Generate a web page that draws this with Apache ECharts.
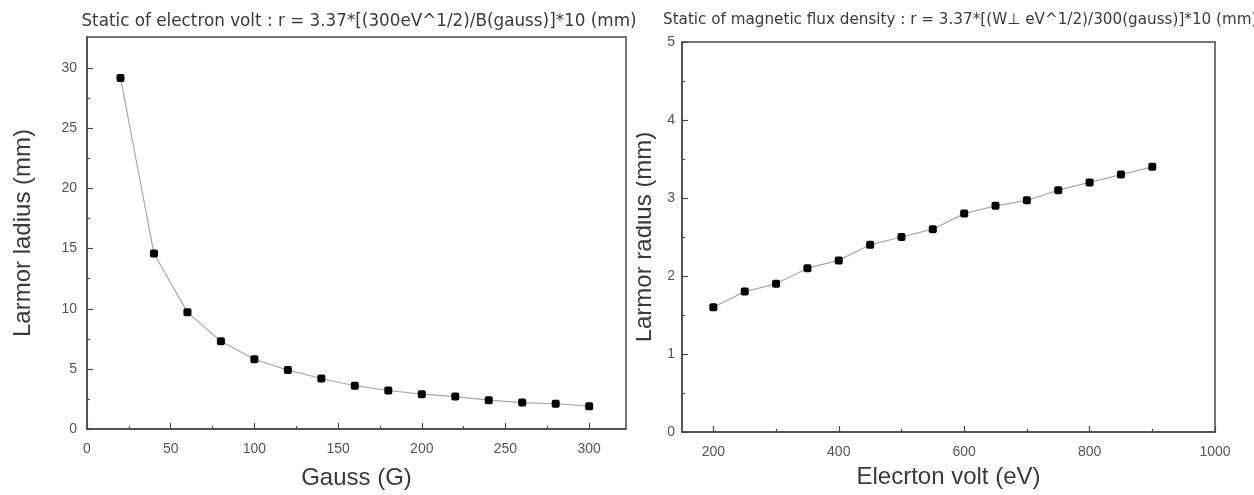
<!DOCTYPE html>
<html lang="en">
<head>
    <meta charset="UTF-8">
    <title>Larmor radius</title>
    <script src="https://cdn.jsdelivr.net/npm/echarts@6/dist/echarts.min.js"></script>
    <style>
        body { margin: 0; background: #fff; }
        #chart { width: 1254px; height: 495px; }
    </style>
</head>
<body>
<div id="chart"></div>
<script>
    // left: B (gauss) vs Larmor radius
    var gaussX = [20, 40, 60, 80, 100, 120, 140, 160, 180, 200, 220, 240, 260, 280, 300];
    var gaussR = [29.2, 14.6, 9.7, 7.3, 5.8, 4.9, 4.2, 3.6, 3.2, 2.9, 2.7, 2.4, 2.2, 2.1, 1.9];
    // right: electron volt vs Larmor radius
    var voltX = [200, 250, 300, 350, 400, 450, 500, 550, 600, 650, 700, 750, 800, 850, 900];
    var voltR = [1.6, 1.8, 1.9, 2.1, 2.2, 2.4, 2.5, 2.6, 2.8, 2.9, 2.97, 3.1, 3.2, 3.3, 3.4];

    // tick labels
    var gaussTicks = [0, 50, 100, 150, 200, 250, 300];
    var gaussMinor = [25, 75, 125, 175, 225, 275];
    var leftYTicks = [0, 5, 10, 15, 20, 25, 30];
    var leftYMinor = [2.5, 7.5, 12.5, 17.5, 22.5, 27.5];
    var voltTicks = [200, 400, 600, 800, 1000];
    var voltMinor = [300, 500, 700, 900];
    var rightYTicks = [0, 1, 2, 3, 4, 5];
    var rightYMinor = [0.5, 1.5, 2.5, 3.5, 4.5];

    var titleLeft = 'Static of electron volt : r = 3.37*[(300eV^1/2)/B(gauss)]*10 (mm)';
    var titleRight = 'Static of magnetic flux density : r = 3.37*[(W\u22A5 eV^1/2)/300(gauss)]*10 (mm)';

    var axisColor = '#4a4a4a';
    var textColor = '#3a3a3a';
    var font = 'Liberation Sans, Arial, sans-serif';

    function pairs(xs, ys) {
        return xs.map(function (x, i) { return [x, ys[i]]; });
    }

    // main axis with labels + major ticks
    function mainAxis(grid, pos, min, max, ticks, name, gap, margin) {
        return {
            type: 'value', gridIndex: grid, position: pos, min: min, max: max,
            name: name, nameLocation: 'middle', nameGap: gap,
            nameTextStyle: { fontFamily: font, fontSize: 24, color: textColor },
            axisLine: { show: true, lineStyle: { color: axisColor, width: 1.5 } },
            axisTick: { show: true, inside: true, length: 6, customValues: ticks,
                lineStyle: { color: axisColor, width: 1.2 } },
            axisLabel: { customValues: ticks, fontFamily: font, fontSize: 14, color: '#555',
                margin: margin, formatter: function (v) { return String(v); } },
            splitLine: { show: false }
        };
    }

    // overlay axis only for minor ticks
    function minorAxis(grid, pos, min, max, ticks) {
        return {
            type: 'value', gridIndex: grid, position: pos, min: min, max: max,
            axisLine: { show: false },
            axisTick: { show: true, inside: true, length: 3, customValues: ticks,
                lineStyle: { color: axisColor, width: 1.2 } },
            axisLabel: { show: false },
            splitLine: { show: false }
        };
    }

    function lineSeries(xi, yi, data) {
        return {
            type: 'line', xAxisIndex: xi, yAxisIndex: yi, data: data,
            symbol: 'roundRect', symbolSize: 8,
            itemStyle: { color: '#000' },
            lineStyle: { color: '#a8a8a8', width: 1.2 },
            z: 3
        };
    }

    var chart = echarts.init(document.getElementById('chart'), null, { renderer: 'canvas' });
    chart.setOption({
        animation: false,
        backgroundColor: '#fff',
        title: [
            { text: titleLeft, left: 354, textAlign: 'center', top: 8,
                textStyle: { fontFamily: 'DejaVu Sans', fontSize: 16.8, fontWeight: 'normal', color: textColor } },
            { text: titleRight, left: 658, top: 8,
                textStyle: { fontFamily: 'DejaVu Sans', fontSize: 15.2, fontWeight: 'normal', color: textColor } }
        ],
        grid: [
            { left: 87, right: 628, top: 37, bottom: 62, show: true, borderColor: axisColor, borderWidth: 1.5 },
            { left: 682, right: 39, top: 42, bottom: 63, show: true, borderColor: axisColor, borderWidth: 1.5 }
        ],
        xAxis: [
            mainAxis(0, 'bottom', 0, 322, gaussTicks, 'Gauss (G)', 37, 13),
            minorAxis(0, 'bottom', 0, 322, gaussMinor),
            mainAxis(1, 'bottom', 150, 1000, voltTicks, 'Elecrton volt (eV)', 33, 13),
            minorAxis(1, 'bottom', 150, 1000, voltMinor)
        ],
        yAxis: [
            mainAxis(0, 'left', 0, 32.6, leftYTicks, 'Larmor ladius (mm)', 52, 10),
            minorAxis(0, 'left', 0, 32.6, leftYMinor),
            mainAxis(1, 'left', 0, 5, rightYTicks, 'Larmor radius (mm)', 26, 7),
            minorAxis(1, 'left', 0, 5, rightYMinor)
        ],
        // the right y title is slightly cut off at its left edge in the original
        graphic: [{
            type: 'rect', z: 100, silent: true,
            shape: { x: 629, y: 60, width: 7, height: 340 },
            style: { fill: '#fff' }
        }],
        series: [
            lineSeries(0, 0, pairs(gaussX, gaussR)),
            lineSeries(2, 2, pairs(voltX, voltR))
        ]
    });
</script>
</body>
</html>
